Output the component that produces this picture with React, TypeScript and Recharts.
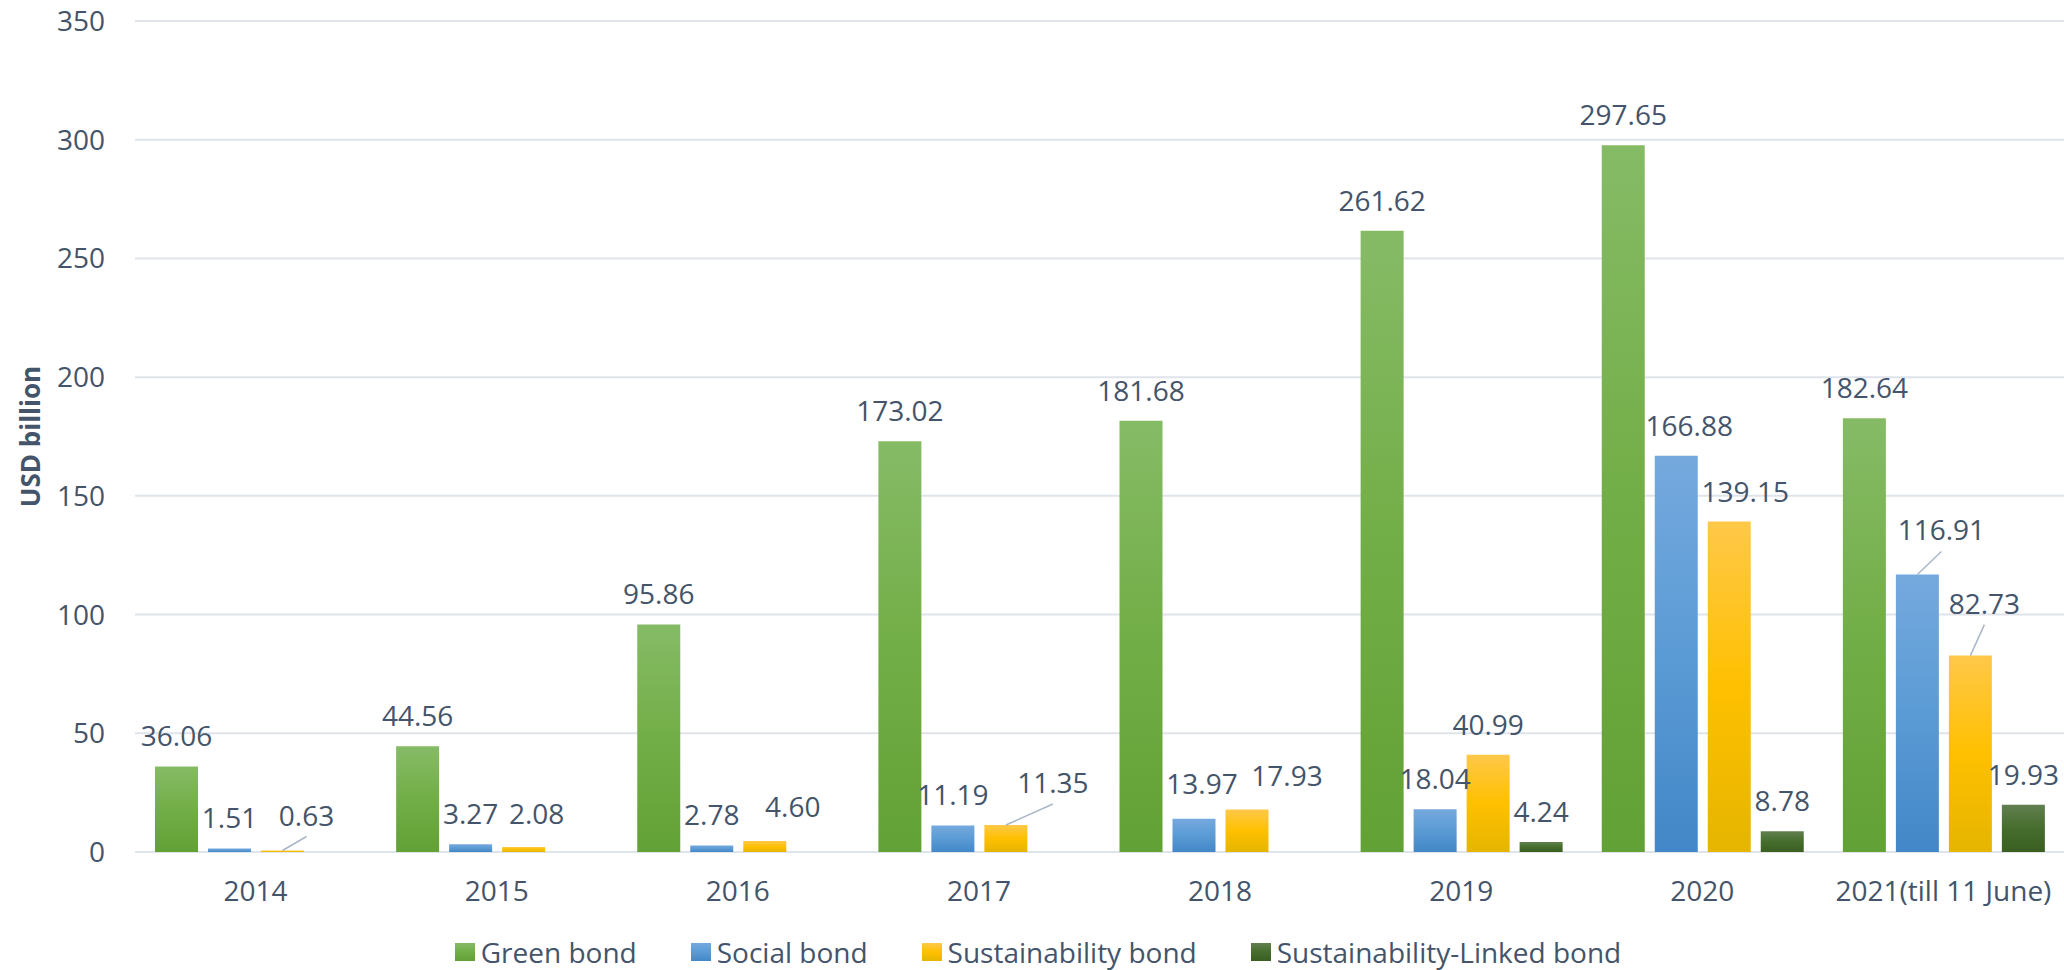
import React from 'react'
import { BarChart, Bar, XAxis, YAxis, CartesianGrid, Legend, LabelList } from 'recharts'

// bond issuance by year, USD billion
const YEARS = ['2014', '2015', '2016', '2017', '2018', '2019', '2020', '2021(till 11 June)']
const GREEN_BOND = [36.06, 44.56, 95.86, 173.02, 181.68, 261.62, 297.65, 182.64]
const SOCIAL_BOND = [1.51, 3.27, 2.78, 11.19, 13.97, 18.04, 166.88, 116.91]
const SUSTAINABILITY_BOND = [0.63, 2.08, 4.6, 11.35, 17.93, 40.99, 139.15, 82.73]
const SLB_BOND = [null, null, null, null, null, 4.24, 8.78, 19.93]
const Y_TICKS = [0, 50, 100, 150, 200, 250, 300, 350]

const data = YEARS.map((year, i) => ({
  year,
  green: GREEN_BOND[i],
  social: SOCIAL_BOND[i],
  sus: SUSTAINABILITY_BOND[i],
  slb: SLB_BOND[i],
}))

const TEXT = '#44546A'
const GRID = '#DFE3EA'
const FONT = '"Open Sans", "Noto Sans", sans-serif'

const SERIES = [
  { key: 'green', name: 'Green bond', stops: ['#86BB66', '#72AE47', '#62A135'] },
  { key: 'social', name: 'Social bond', stops: ['#75A9DE', '#5B9BD5', '#4387C8'] },
  { key: 'sus', name: 'Sustainability bond', stops: ['#FFC849', '#FFC000', '#E5B500'] },
  { key: 'slb', name: 'Sustainability-Linked bond', stops: ['#617F50', '#466D2D', '#3A5F20'] },
]

// a few labels sit off their bars in the original (some with a leader line)
const NUDGE: Record<string, { dx: number; dy: number; leader?: boolean }> = {
  'social-4': { dx: 8, dy: -5 },
  'social-6': { dx: 13, dy: 0 },
  'social-7': { dx: 24, dy: -14, leader: true },
  'sus-0': { dx: 24, dy: -5, leader: true },
  'sus-1': { dx: 13, dy: -3 },
  'sus-2': { dx: 28, dy: -4 },
  'sus-3': { dx: 47, dy: -12, leader: true },
  'sus-4': { dx: 40, dy: -3 },
  'sus-6': { dx: 16, dy: 0 },
  'sus-7': { dx: 14, dy: -22, leader: true },
}

function makeLabel(seriesKey: string) {
  return (props: any) => {
    const { x, y, width, value, index } = props
    if (value == null) return null
    const n = NUDGE[`${seriesKey}-${index}`] || { dx: 0, dy: 0 }
    const cx = Number(x) + Number(width) / 2
    const lx = cx + n.dx
    const base = Number(y) - 20 + n.dy
    return (
      <g>
        {n.leader && (
          <line x1={cx} y1={Number(y)} x2={lx} y2={base + 11} stroke="#A9B6C8" strokeWidth={1.5} />
        )}
        <text x={lx} y={base} textAnchor="middle" fill={TEXT} fontSize={28} fontFamily={FONT}>
          {Number(value).toFixed(2)}
        </text>
      </g>
    )
  }
}

function LegendBox() {
  return (
    <div style={{
      display: 'flex',
      justifyContent: 'center',
      alignItems: 'center',
      gap: 54,
      height: 58,
      paddingTop: 22,
      paddingLeft: 12,
      boxSizing: 'border-box',
    }}>
      {SERIES.map(s => (
        <div key={s.key} style={{ display: 'flex', alignItems: 'center' }}>
          <span style={{
            display: 'inline-block',
            width: 20,
            height: 18,
            marginRight: 6,
            background: `linear-gradient(${s.stops[0]}, ${s.stops[1]}, ${s.stops[2]})`,
          }} />
          <span style={{ color: TEXT, fontSize: 28, fontFamily: FONT, lineHeight: '36px' }}>{s.name}</span>
        </div>
      ))}
    </div>
  )
}

function YTitle(props: any) {
  const vb = props.viewBox || {}
  const x = (vb.x || 0) + 30
  const y = (vb.y || 0) + (vb.height || 0) / 2
  return (
    <text
      x={x}
      y={y}
      transform={`rotate(-90, ${x}, ${y})`}
      textAnchor="middle"
      dominantBaseline="central"
      fill={TEXT}
      fontSize={26}
      fontWeight={700}
      fontFamily={FONT}
    >
      USD billion
    </text>
  )
}

export default function App() {
  return (
    <div style={{
      position: 'absolute',
      left: 0,
      top: 0,
      width: 2064,
      height: 970,
      background: '#fff',
      fontFamily: FONT,
    }}>
      <BarChart
        width={2064}
        height={970}
        data={data}
        margin={{ top: 21, right: 0, left: 0, bottom: 0 }}
        barCategoryGap={20}
        barGap={10}
      >
        <defs>
          {SERIES.map(s => (
            <linearGradient key={s.key} id={`grad-${s.key}`} x1="0" y1="0" x2="0" y2="1">
              <stop offset="0%" stopColor={s.stops[0]} />
              <stop offset="50%" stopColor={s.stops[1]} />
              <stop offset="100%" stopColor={s.stops[2]} />
            </linearGradient>
          ))}
        </defs>
        <CartesianGrid vertical={false} stroke={GRID} strokeWidth={2} />
        <XAxis
          dataKey="year"
          height={60}
          axisLine={false}
          tickLine={false}
          tickSize={0}
          tickMargin={29}
          interval={0}
          tick={{ fill: TEXT, fontSize: 28, fontFamily: FONT }}
        />
        <YAxis
          width={135}
          domain={[0, 350]}
          ticks={Y_TICKS}
          axisLine={false}
          tickLine={false}
          tickSize={0}
          tickMargin={30}
          tick={{ fill: TEXT, fontSize: 28, fontFamily: FONT }}
          label={<YTitle />}
        />
        <Legend verticalAlign="bottom" height={58} content={() => <LegendBox />} />
        {SERIES.map(s => (
          <Bar key={s.key} dataKey={s.key} name={s.name} fill={`url(#grad-${s.key})`} isAnimationActive={false}>
            <LabelList dataKey={s.key} content={makeLabel(s.key)} />
          </Bar>
        ))}
      </BarChart>
    </div>
  )
}
